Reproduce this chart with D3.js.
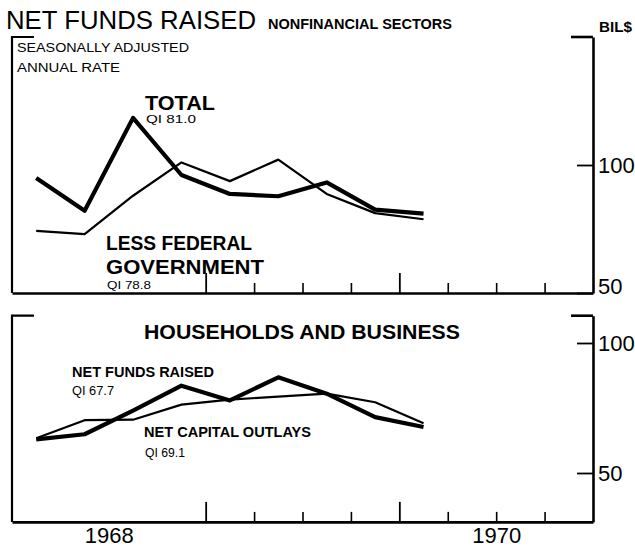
<!DOCTYPE html>
<html><head><meta charset="utf-8">
<script src="https://cdn.jsdelivr.net/npm/d3@7"></script>
<style>
body{margin:0;background:#fff;}
svg{display:block;}
text{font-family:"Liberation Sans",Arial,sans-serif;fill:#000;}
</style></head>
<body><svg id="c" width="635" height="547"></svg>
<script>
// ---- data (quarterly, 1968 Q1 .. 1970 Q1), billions of dollars, SAAR ----
const quarters = ["1968Q1","1968Q2","1968Q3","1968Q4","1969Q1","1969Q2","1969Q3","1969Q4","1970Q1"];
const totalNonfin = [94.9, 82.1, 118.4, 96.1, 88.7, 87.8, 93.2, 82.6, 81.0];
const lessFederal = [74.3, 73.0, 88.0, 101.0, 93.7, 102.1, 88.7, 81.2, 78.8];
const hbNetFunds  = [62.9, 64.9, 74.0, 83.6, 77.9, 86.8, 80.5, 71.5, 67.7];
const hbCapOutlay = [63.4, 70.3, 70.5, 76.3, 78.2, 79.4, 80.5, 77.2, 69.1];
const years = ["1968", "1969", "1970"];
const yearLabels = ["1968", "", "1970"];
const topTickValues = [50, 100];
const bottomTickValues = [50, 100];
const quarterTicks = [4, 5, 6, 7, 8, 9, 10, 11];   // quarter boundaries with tick marks
const majorTicks = [4, 8];

const svg = d3.select("#c");
const x = d3.scaleLinear().domain([0, 12]).range([12, 593]);
const yTop = d3.scaleLinear().domain([50, 150]).range([293, 37]);
const yBot = d3.scaleLinear().domain([50, 100]).range([473, 343]);
const botMin = 31.2, botMax = 110.5;

function frame(g, y, lo, hi) {
  const top = y(hi), bottom = y(lo);
  g.append("path").attr("d", `M${x(0)+22},${top}H${x(0)}V${bottom}`)
    .attr("fill","none").attr("stroke","#000").attr("stroke-width",2.2);
  g.append("path").attr("d", `M${x(12)-22},${top}H${x(12)}`)
    .attr("fill","none").attr("stroke","#000").attr("stroke-width",2.6);
}

function bottomAxis(g, y, lo) {
  const yb = y(lo);
  const minor = quarterTicks.filter(q => !majorTicks.includes(q));
  g.append("g").attr("transform", `translate(0,${yb})`)
    .call(d3.axisBottom(x).tickValues(minor).tickSizeInner(-10).tickSizeOuter(0).tickFormat(""))
    .call(a => a.select(".domain").attr("stroke-width", 2.6))
    .call(a => a.selectAll(".tick line").attr("stroke-width", 1.6));
  g.append("g").attr("transform", `translate(0,${yb})`)
    .call(d3.axisBottom(x).tickValues(majorTicks).tickSizeInner(-20).tickSizeOuter(0).tickFormat(""))
    .call(a => a.select(".domain").remove())
    .call(a => a.selectAll(".tick line").attr("stroke-width", 1.8));
}

function rightAxis(g, y, ticks, lo, hi, lowShift) {
  const yy = y.copy().domain([lo, hi]).range([y(lo), y(hi)]);
  g.append("g").attr("transform", `translate(${x(12)},0)`)
    .call(d3.axisRight(yy).tickValues(ticks).tickSizeInner(-16).tickSizeOuter(0).tickPadding(5))
    .call(a => a.select(".domain").attr("stroke-width", 2.6))
    .call(a => a.selectAll(".tick line").attr("stroke-width", 1.8))
    .call(a => a.selectAll(".tick text").attr("font-size", 22).attr("dy", "0.36em")
      .attr("transform", d => (d === lo + 0 || (lowShift && d === ticks[0])) ? `translate(0,${lowShift || 0})` : null)
      .style("font-family", "'Liberation Sans',Arial,sans-serif"));
}

function series(g, y, vals, w) {
  const line = d3.line().x((d, i) => x(i + 0.5)).y(d => y(d));
  g.append("path").datum(vals).attr("d", line)
    .attr("fill","none").attr("stroke","#000").attr("stroke-width", w)
    .attr("stroke-linejoin","round").attr("stroke-linecap","butt");
}

// ---- top panel ----
const gt = svg.append("g");
frame(gt, yTop, 50, 150);
bottomAxis(gt, yTop, 50);
rightAxis(gt, yTop, topTickValues, 50, 150, -7);
series(gt, yTop, lessFederal, 2.2);
series(gt, yTop, totalNonfin, 4.2);

// ---- bottom panel ----
const gb = svg.append("g");
frame(gb, yBot, botMin, botMax);
bottomAxis(gb, yBot, botMin);
rightAxis(gb, yBot, bottomTickValues, botMin, botMax, 0);
series(gb, yBot, hbCapOutlay, 2.2);
series(gb, yBot, hbNetFunds, 4.2);

// year labels
svg.append("g").attr("transform", `translate(0,${yBot(botMin)})`)
  .call(d3.axisBottom(x).tickValues([2, 6, 10]).tickSize(0).tickPadding(6)
    .tickFormat((d, i) => yearLabels[i]))
  .call(a => a.select(".domain").remove())
  .call(a => a.selectAll("text").attr("font-size", 22)
    .style("font-family", "'Liberation Sans',Arial,sans-serif"));

// ---- texts ----
function txt(s, xx, yy, size, weight, len, anchor) {
  const t = svg.append("text").attr("x", xx).attr("y", yy).attr("font-size", size)
    .attr("font-weight", weight || "normal").text(s);
  if (len) t.attr("textLength", len).attr("lengthAdjust", "spacingAndGlyphs");
  if (anchor) t.attr("text-anchor", anchor);
  return t;
}
txt("NET FUNDS RAISED", 6, 29, 26.5, "normal", 250);
txt("NONFINANCIAL SECTORS", 268, 29, 14, "bold", 184);
txt("BIL$", 599, 32, 14, "bold", 33);
txt("SEASONALLY ADJUSTED", 17, 52, 12, "normal", 172);
txt("ANNUAL RATE", 17, 72, 12, "normal", 103);
txt("TOTAL", 145, 110, 21, "bold", 70);
txt("QI 81.0", 146, 123, 11, "normal", 50);
txt("LESS FEDERAL", 106, 250, 21, "bold", 146);
txt("GOVERNMENT", 106, 274, 21, "bold", 158);
txt("QI 78.8", 107, 289, 11, "normal", 44);
txt("HOUSEHOLDS AND BUSINESS", 302, 339, 21, "bold", 316, "middle");
txt("NET FUNDS RAISED", 72, 377, 14, "bold", 142);
txt("QI 67.7", 72, 395, 13, "normal", 42);
txt("NET CAPITAL OUTLAYS", 144, 437, 14, "bold", 167);
txt("QI 69.1", 145, 457, 13, "normal", 40);
</script></body></html>
